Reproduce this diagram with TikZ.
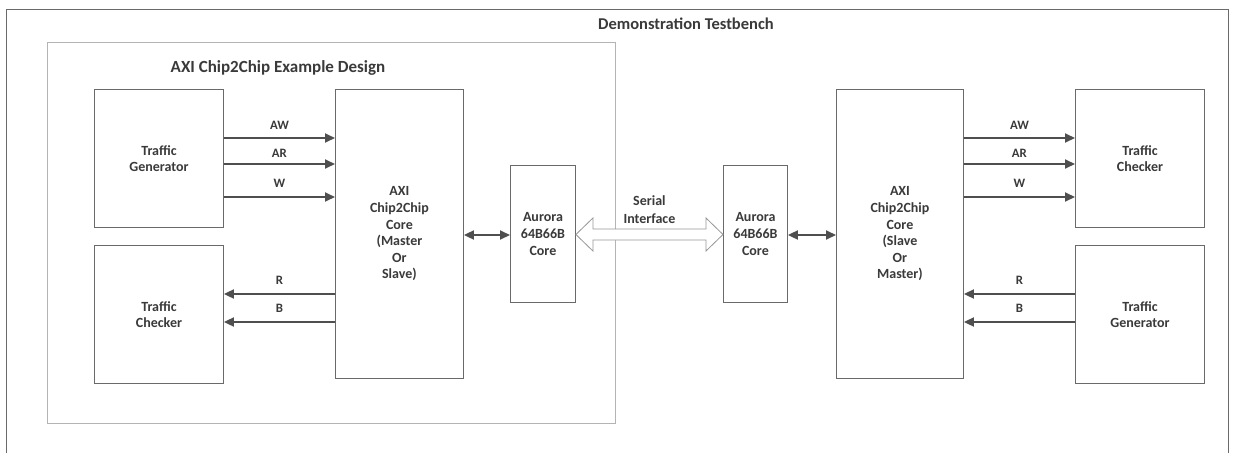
\documentclass[tikz,border=0pt]{standalone}
\usepackage{fontspec}
\setmainfont{Carlito}
\usetikzlibrary{arrows.meta,calc}
\definecolor{boxline}{HTML}{6A6A6A}
\definecolor{innerline}{HTML}{B4B4B4}
\definecolor{arrowcol}{HTML}{4F4F4F}
\definecolor{txt}{HTML}{3A3A3A}
\begin{document}
\begin{tikzpicture}[x=1pt,y=-1pt,
  blk/.style={draw=boxline, line width=0.9pt, fill=white, anchor=north west, align=center,
    font=\fontsize{14}{16.6}\selectfont\bfseries, text=txt, inner sep=0pt},
  sig/.style={draw=arrowcol, line width=1.8pt, -{Triangle[length=10pt,width=9pt]}},
  bisig/.style={draw=arrowcol, line width=1.8pt, {Triangle[length=10pt,width=9pt]}-{Triangle[length=10pt,width=9pt]}},
  lbl/.style={font=\fontsize{12.8}{14}\selectfont\bfseries, text=txt, inner sep=0pt},
  ttl/.style={font=\fontsize{17}{20}\selectfont\bfseries, text=txt, inner sep=0pt}]
\useasboundingbox (0,0) rectangle (1233,453);
\fill[white] (0,0) rectangle (1233,453);
% outer testbench frame (open at the bottom)
\draw[boxline, line width=0.9pt] (6,453) -- (6,9) -- (1228,9) -- (1228,453);
\node[ttl, font=\fontsize{16.5}{20}\selectfont\bfseries] (tbt) at (686,24) {Demonstration Testbench};
% example design frame
\node[draw=innerline, line width=1pt, anchor=north west, minimum width=568pt, minimum height=381pt, inner sep=0pt] (ed) at (47,42) {};
\node[ttl] (edt) at (278,68) {AXI Chip2Chip Example Design};
% left side
\node[blk, minimum width=129pt, minimum height=138pt] (tg1) at (94,89) {Traffic\\Generator};
\node[blk, minimum width=129pt, minimum height=138pt] (tc1) at (94,245) {Traffic\\Checker};
\node[blk, minimum width=128pt, minimum height=289pt] (core1) at (335,89) {AXI\\Chip2Chip\\Core\\(Master\\Or\\Slave)};
\node[blk, minimum width=65pt, minimum height=137pt] (au1) at (510,165) {Aurora\\64B66B\\Core};
% right side
\node[blk, minimum width=64pt, minimum height=137pt] (au2) at (723,165) {Aurora\\64B66B\\Core};
\node[blk, minimum width=127pt, minimum height=289pt] (core2) at (836,89) {AXI\\Chip2Chip\\Core\\(Slave\\Or\\Master)};
\node[blk, minimum width=129pt, minimum height=138pt] (tc2) at (1075,89) {Traffic\\Checker};
\node[blk, minimum width=129pt, minimum height=138pt] (tg2) at (1075,245) {Traffic\\Generator};
% left signals
\draw[sig] (tg1.east |- 0,138) -- (core1.west |- 0,138) node[lbl, midway, above=8pt] {AW};
\draw[sig] (tg1.east |- 0,164) -- (core1.west |- 0,164) node[lbl, midway, above=6pt] {AR};
\draw[sig] (tg1.east |- 0,197) -- (core1.west |- 0,197) node[lbl, midway, above=9pt] {W};
\draw[sig] (core1.west |- 0,294) -- (tc1.east |- 0,294) node[lbl, midway, above=9pt] {R};
\draw[sig] (core1.west |- 0,322) -- (tc1.east |- 0,322) node[lbl, midway, above=9pt] {B};
% right signals
\draw[sig] (core2.east |- 0,138) -- (tc2.west |- 0,138) node[lbl, midway, above=8pt] {AW};
\draw[sig] (core2.east |- 0,164) -- (tc2.west |- 0,164) node[lbl, midway, above=6pt] {AR};
\draw[sig] (core2.east |- 0,197) -- (tc2.west |- 0,197) node[lbl, midway, above=9pt] {W};
\draw[sig] (tg2.west |- 0,294) -- (core2.east |- 0,294) node[lbl, midway, above=9pt] {R};
\draw[sig] (tg2.west |- 0,322) -- (core2.east |- 0,322) node[lbl, midway, above=9pt] {B};
% core <-> aurora
\draw[bisig] (core1.east |- 0,235) -- (au1.west |- 0,235);
\draw[bisig] (au2.east |- 0,235) -- (core2.west |- 0,235);
% serial interface block arrow
\coordinate (sl) at (au1.east |- 0,234.5);
\coordinate (sr) at (au2.west |- 0,234.5);
\draw[boxline!70, line width=0.8pt, fill=white, line join=miter]
  (sl) -- ($(sl)+(17,-16.5)$) -- ($(sl)+(17,-5.5)$) -- ($(sr)+(-17,-5.5)$) -- ($(sr)+(-17,-16.5)$)
  -- (sr) -- ($(sr)+(-17,16.5)$) -- ($(sr)+(-17,5.5)$) -- ($(sl)+(17,5.5)$) -- ($(sl)+(17,16.5)$) -- cycle;
\node[lbl, font=\fontsize{14}{17.5}\selectfont\bfseries, align=center] (ser) at ($(sl)!0.5!(sr)+(0,-25)$) {Serial\\Interface};
\end{tikzpicture}
\end{document}
